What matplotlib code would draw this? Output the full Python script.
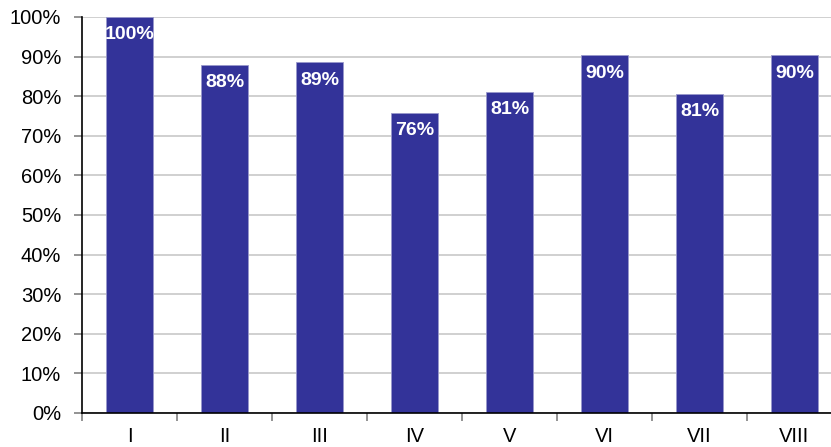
import numpy as np
import matplotlib.pyplot as plt
from matplotlib.ticker import FixedLocator, PercentFormatter

categories = ['I', 'II', 'III', 'IV', 'V', 'VI', 'VII', 'VIII']
values = [100, 88, 88.6, 75.8, 81.1, 90.4, 80.6, 90.4]
labels = ['100%', '88%', '89%', '76%', '81%', '90%', '81%', '90%']

plt.rcParams['font.family'] = ['Liberation Sans', 'DejaVu Sans']

W, H = 831, 447
fig = plt.figure(figsize=(W / 100, H / 100), dpi=100)
# plot area runs past the right edge of the picture, as in the original
left, right, top, bottom = 82, 842, 17, 413
ax = fig.add_axes([left / W, (H - bottom) / H, (right - left) / W, (bottom - top) / H])

x = np.arange(len(categories))
bars = ax.bar(x, values, width=0.5, color='#333399', edgecolor='#9999cc', linewidth=0.6, zorder=3)

# labels inside the top of each bar
for b, lab in zip(bars, labels):
    ax.annotate(lab, (b.get_x() + b.get_width() / 2, b.get_height()),
                xytext=(0, -18), textcoords='offset pixels',
                ha='center', va='center', color='white', fontsize=14, fontweight='bold', zorder=4)

ax.set_xlim(-0.5, len(categories) - 0.5)
ax.set_ylim(0, 100)
ax.set_yticks(np.arange(0, 101, 10))
ax.yaxis.set_major_formatter(PercentFormatter(decimals=0))
ax.yaxis.grid(True, color='#c8c8c8', linewidth=1.2, zorder=0)

# category labels centred, tick marks between categories
ax.xaxis.set_major_locator(FixedLocator(np.arange(-0.5, len(categories), 1)))
ax.xaxis.set_minor_locator(FixedLocator(x))
ax.set_xticklabels([])
ax.set_xticklabels(categories, minor=True)
ax.tick_params(axis='x', which='major', length=6, color='#808080', width=1.2)
ax.tick_params(axis='x', which='minor', length=0, labelsize=14.5, pad=10)
ax.tick_params(axis='y', length=6, color='#808080', width=1.2, labelsize=14.5, pad=9)

for s in ['top', 'right']:
    ax.spines[s].set_visible(False)
for s in ['left', 'bottom']:
    ax.spines[s].set_linewidth(1.2)
    ax.spines[s].set_zorder(5)

fig.savefig('out.png', dpi=100)
